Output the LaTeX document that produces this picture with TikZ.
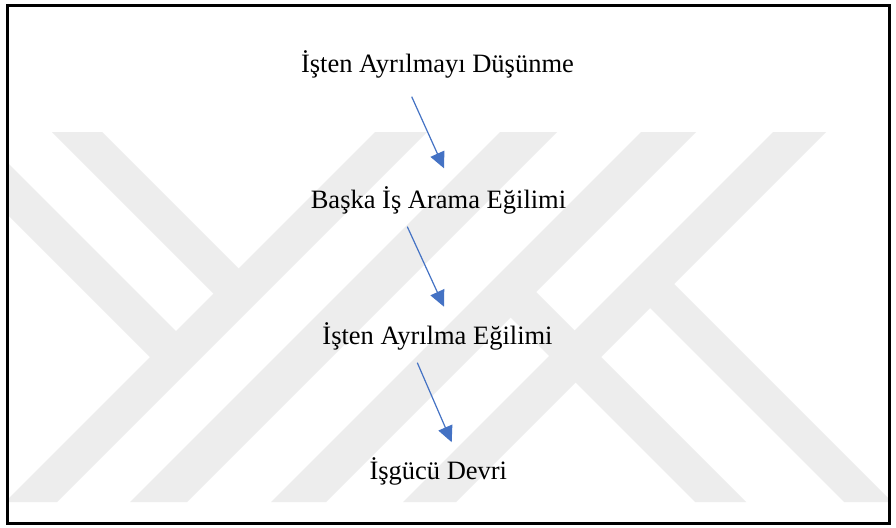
\documentclass[tikz,border=0pt]{standalone}
\usepackage{fontspec}
\setmainfont{Liberation Serif}
\usetikzlibrary{arrows.meta}
\definecolor{wm}{RGB}{237,237,237}
\definecolor{arrowblue}{RGB}{68,114,196}
\begin{document}
\begin{tikzpicture}[x=1pt,y=-1pt,
  lbl/.style={font=\fontsize{26.5}{30}\selectfont, inner sep=0pt, anchor=base},
  flow/.style={draw=arrowblue, line width=1.2pt, -{Triangle[length=16pt,width=15pt]}},
  band/.style={fill=wm, draw=none}]
\useasboundingbox (0,0) rectangle (896,527);
\fill[white] (0,0) rectangle (896,527);
% watermark
\begin{scope}
\clip (9,7) rectangle (888,522);
% "/" bands
\fill[band] (375,132) -- (427,132) -- (57,502) -- (5,502) -- cycle;
\fill[band] (500,132) -- (557,132) -- (187,502) -- (130,502) -- cycle;
\fill[band] (641,132) -- (696,132) -- (326,502) -- (271,502) -- cycle;
\fill[band] (773,132) -- (826,132) -- (456,502) -- (403,502) -- cycle;
% "\" bands
\fill[band] (52,132) -- (102,132) -- (251.5,281.5) -- (226.5,306.5) -- cycle;
\fill[band] (-75,132) -- (-23,132) -- (189,344) -- (163,370) -- cycle;
\fill[band] (496.5,303.5) -- (522,278) -- (746,502) -- (695,502) -- cycle;
\fill[band] (636,294) -- (660,270) -- (892,502) -- (844,502) -- cycle;
\end{scope}
% texts
\node[lbl] (t1) at (437.5,73) {İşten Ayrılmayı Düşünme};
\node[lbl] (t2) at (438.5,208.3) {Başka İş Arama Eğilimi};
\node[lbl] (t3) at (437.5,344) {İşten Ayrılma Eğilimi};
\node[lbl] (t4) at (438.3,479.3) {İşgücü Devri};
% arrows
\coordinate (a1s) at (411.7,96.7);
\coordinate (a1e) at (444,168.3);
\coordinate (a2s) at (407.3,226.7);
\coordinate (a2e) at (444,306.7);
\coordinate (a3s) at (417.3,362.7);
\coordinate (a3e) at (451.7,442.2);
\draw[flow] (a1s) -- (a1e);
\draw[flow] (a2s) -- (a2e);
\draw[flow] (a3s) -- (a3e);
% frame
\draw[black, line width=3pt] (7.5,5.5) rectangle (889.5,523.5);
\end{tikzpicture}
\end{document}
